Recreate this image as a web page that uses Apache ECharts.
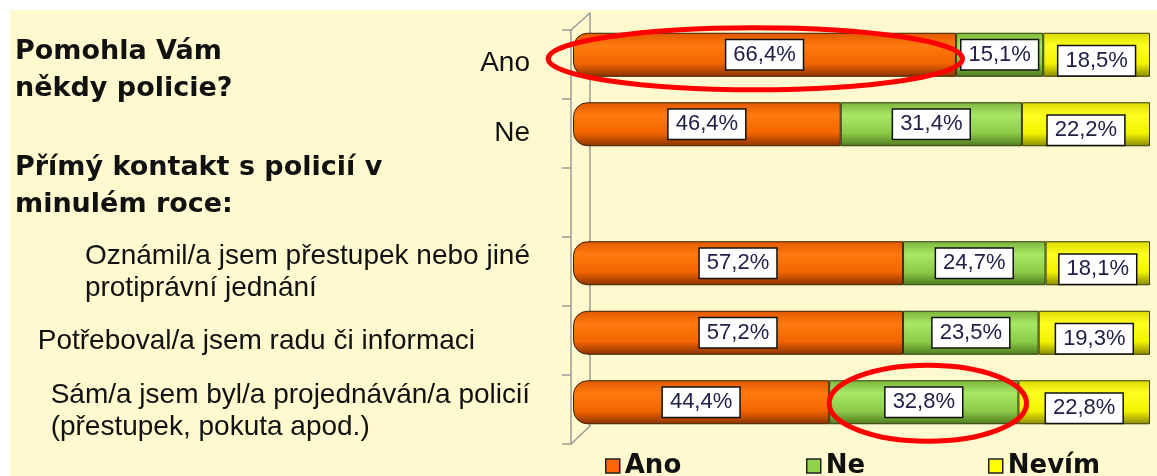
<!DOCTYPE html>
<html>
<head>
<meta charset="utf-8">
<script src="https://cdn.jsdelivr.net/npm/echarts@6/dist/echarts.min.js"></script>
<style>
  html, body { margin: 0; padding: 0; background: #fff; }
  #chart { position: absolute; left: 10px; top: 10px; width: 1147px; height: 466px; background: #FEF9CF; }
</style>
</head>
<body>
<div id="chart"></div>
<script>
// radky grafu (treti je prazdny - pod nadpisem)
var categories = [
  'Ano',
  'Ne',
  '',
  'Oznámil/a jsem přestupek nebo jiné\nprotiprávní jednání',
  'Potřeboval/a jsem radu či informaci',
  'Sám/a jsem byl/a projednáván/a policií\n(přestupek, pokuta apod.)'
];
var seriesNames = ['Ano', 'Ne', 'Nevím'];
var anoValues = [66.4, 46.4, null, 57.2, 57.2, 44.4];
var neValues = [15.1, 31.4, null, 24.7, 23.5, 32.8];
var nevimValues = [18.5, 22.2, null, 18.1, 19.3, 22.8];
var headings = ['Pomohla Vám\nněkdy policie?', 'Přímý kontakt s policií v\nminulém roce:'];

var myChart = echarts.init(document.getElementById('chart'));

function grad(c0, c1, c2, c3) {
  return new echarts.graphic.LinearGradient(0, 0, 0, 1, [
    { offset: 0, color: c0 },
    { offset: 0.3, color: c1 },
    { offset: 0.7, color: c2 },
    { offset: 1, color: c3 }
  ]);
}

var labelBox = {
  show: true,
  position: 'inside',
  backgroundColor: '#fff',
  borderColor: '#111',
  borderWidth: 1.5,
  padding: [4, 7, 3, 7],
  fontFamily: 'Liberation Sans, Arial',
  fontSize: 22,
  color: '#20204a',
  formatter: function (p) {
    return String(p.value).replace('.', ',') + '%';
  }
};

var legendBase = {
  icon: 'rect',
  itemWidth: 14,
  itemHeight: 14,
  padding: 0,
  top: 443,
  selectedMode: false,
  textStyle: { fontFamily: 'DejaVu Sans', fontWeight: 'bold', fontSize: 26, color: '#111' }
};
var legendColors = ['#FF6600', '#92D050', '#FFFF00'];
var legendLeft = [595, 796, 978];

var headStyle = { fontFamily: 'DejaVu Sans', fontWeight: 'bold', fontSize: 27, lineHeight: 37, color: '#111' };

var option = {
  animation: false,
  title: [
    { text: headings[0], left: 5, top: 23, padding: 0, textStyle: headStyle },
    { text: headings[1], left: 5, top: 139, padding: 0, textStyle: headStyle }
  ],
  legend: seriesNames.map(function (n, i) {
    return Object.assign({}, legendBase, {
      data: [n],
      left: legendLeft[i],
      itemStyle: { color: legendColors[i], borderColor: '#222', borderWidth: 1.5 }
    });
  }),
  grid: [
    { left: 563, right: 7, top: 10, bottom: 39 },   // sloupce
    { left: 561, width: 10, top: 20, bottom: 32 },  // predni hrana steny
    { left: 580, width: 10, top: 3, bottom: 50 }    // zadni hrana steny
  ],
  xAxis: [
    { type: 'value', min: 0, max: 100, show: false, gridIndex: 0 },
    { type: 'value', show: false, gridIndex: 1 },
    { type: 'value', show: false, gridIndex: 2 }
  ],
  yAxis: [
    {
      type: 'category', data: categories, inverse: true, gridIndex: 0,
      axisLine: { show: false }, axisTick: { show: false },
      axisLabel: {
        margin: 43,
        padding: [18, 0, 0, 0],
        formatter: function (v) {
          var st = v.indexOf('Potřeboval') === 0 ? 'p' : 'l';
          return v.split('\n').map(function (s) { return '{' + st + '|' + s + '}'; }).join('\n');
        },
        rich: {
          l: { align: 'left', fontFamily: 'Liberation Sans, Arial', fontSize: 28, lineHeight: 32, color: '#111' },
          p: { align: 'left', fontFamily: 'Liberation Sans, Arial', fontSize: 28, lineHeight: 32, color: '#111', padding: [0, 55, 0, 0] }
        }
      }
    },
    {
      type: 'category', data: categories, inverse: true, gridIndex: 1,
      axisLine: { show: true, lineStyle: { color: '#9a9a9a', width: 1.5 } },
      axisTick: { show: true, length: 9, lineStyle: { color: '#9a9a9a', width: 1.5 } },
      axisLabel: { show: false }
    },
    {
      type: 'category', data: categories, inverse: true, gridIndex: 2,
      axisLine: { show: true, lineStyle: { color: '#9a9a9a', width: 1.5 } },
      axisTick: { show: false },
      axisLabel: { show: false }
    }
  ],
  series: [
    {
      name: 'Ano', type: 'bar', stack: 'total', barWidth: 44, data: anoValues,
      itemStyle: { color: grad('#E05800', '#FF7A10', '#F26400', '#8A3300'), borderColor: '#3a2000', borderWidth: 1, borderRadius: [14, 0, 0, 14] },
      label: labelBox
    },
    {
      name: 'Ne', type: 'bar', stack: 'total', barWidth: 44, data: neValues,
      itemStyle: { color: grad('#7BB53A', '#A8E866', '#8CCB48', '#4E7A1E'), borderColor: '#2e3a10', borderWidth: 1 },
      label: labelBox
    },
    {
      name: 'Nevím', type: 'bar', stack: 'total', barWidth: 44, data: nevimValues,
      itemStyle: { color: grad('#DADA00', '#FFFF22', '#F2F200', '#8A8A00'), borderColor: '#3a3a00', borderWidth: 1 },
      label: Object.assign({}, labelBox, { offset: [0, 6] })
    }
  ]
};
myChart.setOption(option);

// cervene elipsy kolem zvyraznenych hodnot, pozice pres osy grafu
function ellipseAround(x0, x1, row, dy, ry) {
  var a = myChart.convertToPixel({ gridIndex: 0 }, [x0, row]);
  var b = myChart.convertToPixel({ gridIndex: 0 }, [x1, row]);
  return {
    type: 'ellipse', z: 100,
    shape: { cx: (a[0] + b[0]) / 2, cy: a[1] + dy, rx: (b[0] - a[0]) / 2, ry: ry },
    style: { fill: 'none', stroke: '#FF0000', lineWidth: 5 }
  };
}
myChart.setOption({
  graphic: [
    // diagonaly steny
    { type: 'line', shape: { x1: 561, y1: 20, x2: 580, y2: 3 }, style: { stroke: '#9a9a9a', lineWidth: 1.5 } },
    { type: 'line', shape: { x1: 561, y1: 434, x2: 580, y2: 416 }, style: { stroke: '#9a9a9a', lineWidth: 1.5 } },
    ellipseAround(-4.3, 67.5, 0, 4, 31),
    ellipseAround(44.4, 78.6, 5, 1, 38)
  ]
});
</script>
</body>
</html>
